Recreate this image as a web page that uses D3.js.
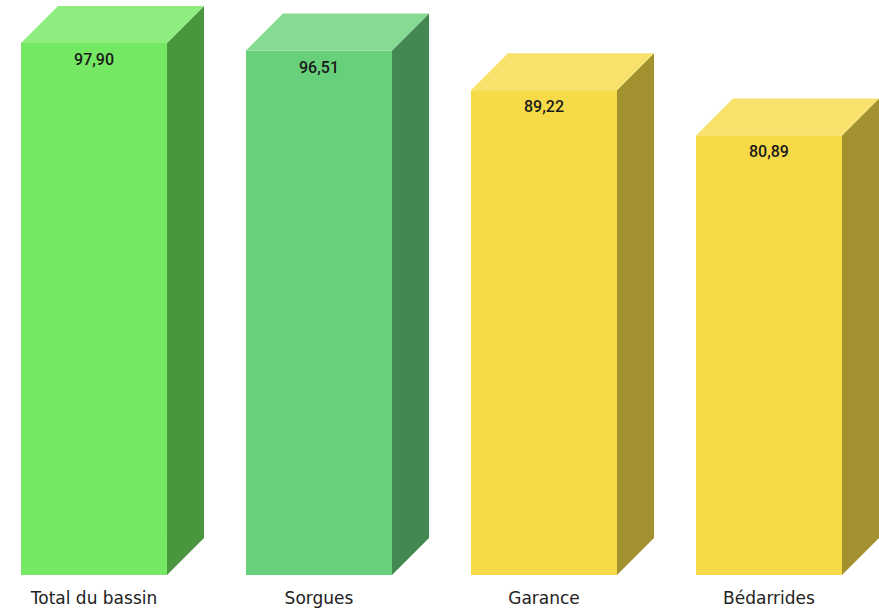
<!DOCTYPE html>
<html>
<head>
<meta charset="utf-8">
<script src="https://cdn.jsdelivr.net/npm/d3@7"></script>
<style>
  body { margin: 0; background: #fff; }
  .cat { font-family: "DejaVu Sans", Verdana, sans-serif; font-size: 17px; fill: #222; }
  .val { font-family: Roboto, sans-serif; font-size: 16px; font-weight: 500; fill: #1a1a1a; }
</style>
</head>
<body>
<div id="chart"></div>
<script>
// data
var categories = ["Total du bassin", "Sorgues", "Garance", "Bédarrides"];
var values = [97.90, 96.51, 89.22, 80.89];
var labels = ["97,90", "96,51", "89,22", "80,89"];
var frontColors = ["#74e862", "#68d07a", "#f7da48", "#f7da48"];
var topColors = ["#8fed80", "#86db92", "#f8e26c", "#f8e26c"];
var sideColors = ["#4a963e", "#458752", "#a2922f", "#a2922f"];

var w = 879, h = 611;
var depth = 37;
var baseY = 575;

var svg = d3.select("#chart")
            .append("svg")
            .attr("width", w)
            .attr("height", h);

// scales
var xScale = d3.scaleBand()
               .domain(categories)
               .range([21, 842])
               .paddingInner(0.351)
               .paddingOuter(0);

var yScale = d3.scaleLinear()
               .domain([0, 100])
               .range([baseY, baseY - 543.4]);

var data = categories.map(function(c, i){
	return {cat: c, value: values[i], label: labels[i], i: i};
});

var bars = svg.append("g")
              .selectAll("g")
              .data(data)
              .enter()
              .append("g");

var bw = xScale.bandwidth();

// side face
bars.append("path")
    .attr("d", function(d){
    	var x1 = xScale(d.cat) + bw, y0 = yScale(d.value);
    	return "M" + x1 + "," + y0 + "L" + (x1 + depth) + "," + (y0 - depth) +
    	       "L" + (x1 + depth) + "," + (baseY - depth) + "L" + x1 + "," + baseY + "Z";
    })
    .style("fill", (d) => sideColors[d.i]);

// top face
bars.append("path")
    .attr("d", function(d){
    	var x0 = xScale(d.cat), y0 = yScale(d.value);
    	return "M" + x0 + "," + y0 + "L" + (x0 + depth) + "," + (y0 - depth) +
    	       "L" + (x0 + bw + depth) + "," + (y0 - depth) + "L" + (x0 + bw) + "," + y0 + "Z";
    })
    .style("fill", (d) => topColors[d.i]);

// front face
bars.append("rect")
    .attr("x", (d) => xScale(d.cat))
    .attr("y", (d) => yScale(d.value))
    .attr("width", bw)
    .attr("height", (d) => baseY - yScale(d.value))
    .style("fill", (d) => frontColors[d.i]);

// value labels
bars.append("text")
    .attr("class", "val")
    .attr("x", (d) => xScale(d.cat) + bw / 2)
    .attr("y", (d) => yScale(d.value) + 22)
    .attr("text-anchor", "middle")
    .text((d) => d.label);

// category labels
bars.append("text")
    .attr("class", "cat")
    .attr("x", (d) => xScale(d.cat) + bw / 2)
    .attr("y", 604)
    .attr("text-anchor", "middle")
    .text((d) => d.cat);
</script>
</body>
</html>
